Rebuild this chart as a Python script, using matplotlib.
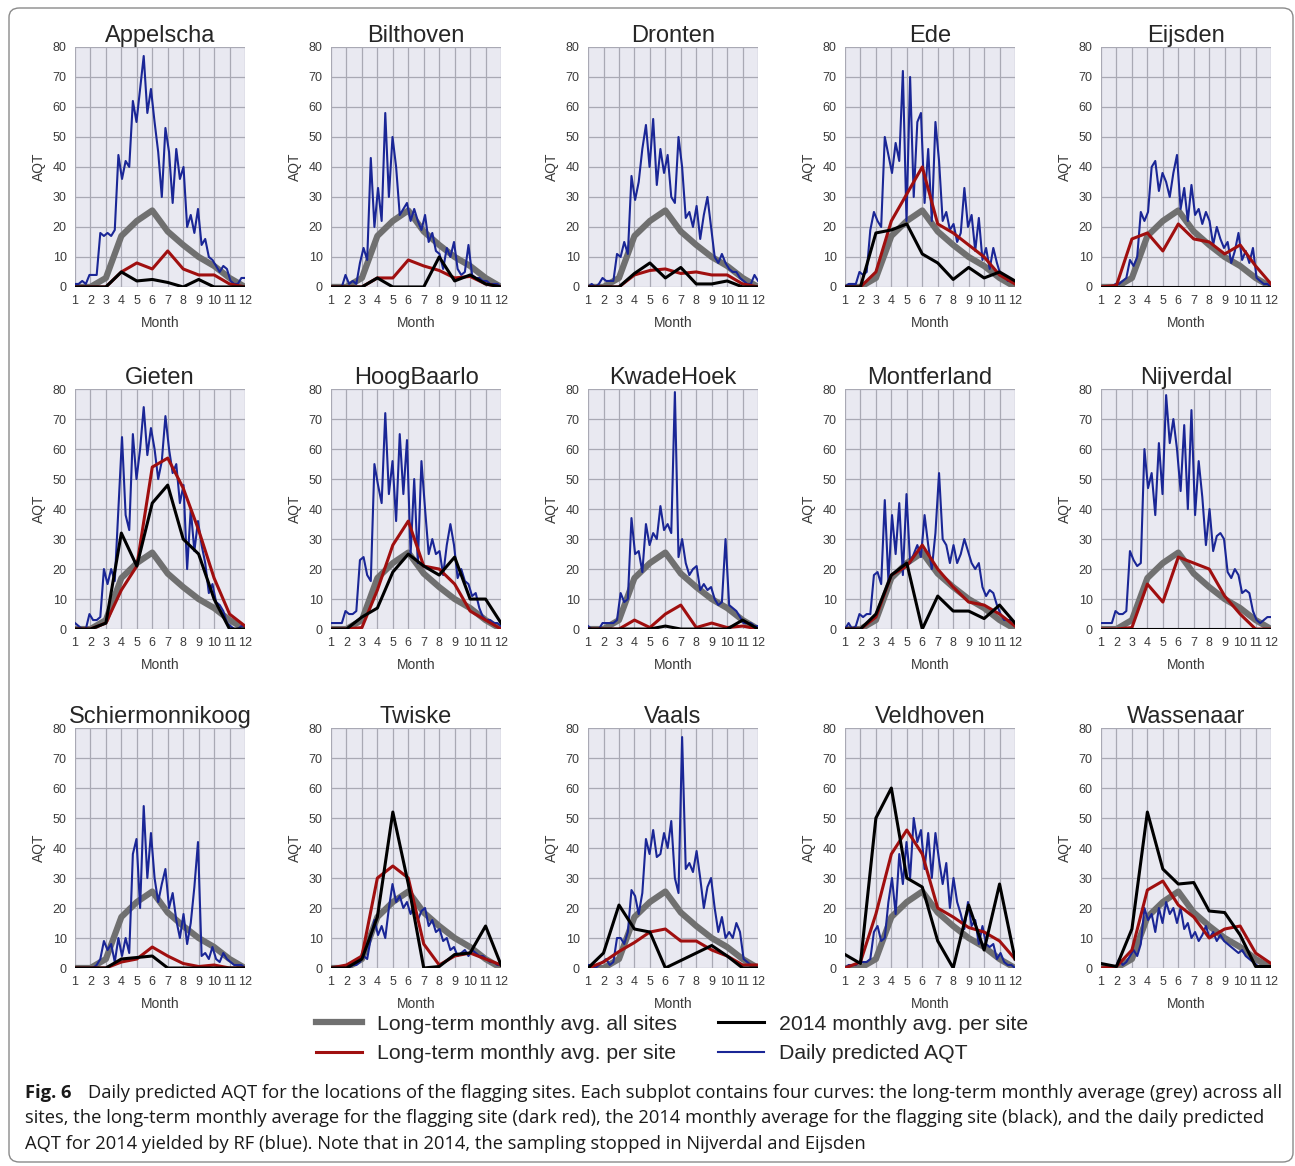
import numpy as np
import matplotlib

matplotlib.use("Agg")
import matplotlib.pyplot as plt
from matplotlib.lines import Line2D
from matplotlib.patches import FancyBboxPatch

plt.rcParams["font.family"] = ["Liberation Sans", "DejaVu Sans"]

MONTHS = list(range(1, 13))
MONTH_LABELS = [str(m) for m in MONTHS]
Y_TICKS = [0, 10, 20, 30, 40, 50, 60, 70, 80]

# long-term monthly average across all sites (same grey curve in every panel)
all_sites_avg = [0, 0, 3, 17, 22, 25.5, 18.5, 14, 10, 7, 3, 0]

# per site: long-term monthly avg, 2014 monthly avg, daily prediction (read ~weekly)
appelscha_site = [0, 0, 0, 5, 8, 6, 12, 6, 4, 4, 1, 0]
appelscha_2014 = [0, 0, 0, 5, 2, 2.5, 1.5, 0, 2.5, 0, 0, 0]
appelscha_daily = [1, 1, 2, 1, 4, 4, 4, 18, 17, 18, 17, 19, 44, 36, 42, 40, 62, 55, 66, 77,
                   58, 66, 55, 45, 30, 53, 45, 28, 46, 36, 40, 20, 24, 18, 26, 14, 16, 10,
                   9, 7, 5, 7, 6, 2, 1, 1, 3, 3]

bilthoven_site = [0, 0, 0, 3, 3, 9, 7, 5.5, 3, 3.5, 1, 0]
bilthoven_2014 = [0, 0, 0, 3, 0, 0, 0, 10, 2, 4, 1, 0]
bilthoven_daily = [0, 0, 0, 0, 4, 1, 2, 1, 8, 13, 9, 43, 20, 33, 22, 58, 30, 50, 40, 24,
                   26, 28, 22, 26, 22, 19, 24, 15, 18, 12, 11, 6, 13, 10, 15, 6, 4, 5,
                   14, 4, 3, 3, 2, 2, 1, 1, 1, 0]

dronten_site = [0, 0, 0, 4, 5.5, 6, 4.5, 5, 4, 4, 1, 0]
dronten_2014 = [0, 0, 0, 4.5, 8, 3, 6.5, 1, 1, 2, 0, 0]
dronten_daily = [0, 1, 0, 1, 3, 2, 2, 2, 11, 10, 15, 11, 37, 29, 35, 46, 54, 40, 56, 34,
                 46, 38, 44, 30, 28, 50, 40, 23, 25, 20, 27, 16, 24, 30, 20, 10, 8, 11,
                 8, 6, 5, 5, 3, 2, 1, 1, 4, 2]

ede_site = [0, 0, 5, 22, 31, 40, 21, 18, 14, 10, 4, 1]
ede_2014 = [0, 0, 18, 19, 21, 11, 8, 2.5, 6.5, 3, 5, 2]
ede_daily = [0, 1, 1, 1, 5, 4, 5, 19, 25, 22, 20, 50, 44, 38, 48, 42, 72, 22, 70, 30,
             55, 58, 28, 46, 22, 55, 42, 22, 25, 19, 21, 15, 18, 33, 20, 24, 12, 23,
             9, 13, 6, 13, 8, 4, 4, 2, 2, 1]

eijsden_site = [0, 0.5, 16, 18, 12, 21, 16, 15, 11, 14, 7, 1]
eijsden_2014 = [0, 0, 0, 0, 0, 0, 0, 0, 0, 0, 0, 0]
eijsden_daily = [0, 0, 0, 0, 1, 1, 2, 3, 9, 7, 10, 25, 22, 25, 40, 42, 32, 38, 35, 30,
                 38, 44, 26, 33, 22, 34, 24, 26, 21, 25, 22, 14, 20, 16, 13, 15, 8, 12,
                 18, 9, 12, 8, 13, 3, 2, 1, 1, 0]

gieten_site = [0, 0, 2, 13, 21, 54, 57, 47, 33, 17, 5, 1]
gieten_2014 = [0, 0, 2, 32, 21, 42, 48, 30, 25, 10, 0, 0]
gieten_daily = [2, 1, 0, 0, 5, 3, 3, 4, 20, 15, 20, 16, 40, 64, 38, 33, 65, 50, 60, 74,
                58, 67, 60, 50, 56, 71, 60, 52, 55, 42, 48, 20, 40, 26, 36, 28, 22, 12,
                15, 9, 8, 6, 2, 1, 0, 0, 1, 1]

hoogbaarlo_site = [0, 0, 0.5, 13, 28, 36, 21, 20, 15, 6, 3, 0]
hoogbaarlo_2014 = [0, 0, 4, 7, 19, 25, 21, 18, 24, 10, 10, 2]
hoogbaarlo_daily = [2, 2, 2, 2, 6, 5, 5, 6, 23, 24, 18, 16, 55, 48, 42, 72, 45, 56, 36, 65,
                    45, 63, 25, 50, 22, 56, 40, 25, 30, 25, 26, 18, 28, 35, 28, 17, 20, 16,
                    15, 11, 12, 7, 4, 3, 3, 2, 2, 1]

kwadehoek_site = [0, 0, 0, 3, 0.5, 5, 8, 0.5, 2, 0.5, 1, 0]
kwadehoek_2014 = [0, 0, 0, 0, 0, 1, 0, 0, 0, 0, 3, 0]
kwadehoek_daily = [1, 0, 0, 0, 2, 2, 2, 2, 3, 12, 9, 10, 37, 25, 26, 19, 35, 28, 32, 30,
                   41, 33, 35, 32, 79, 24, 30, 22, 18, 20, 21, 13, 15, 13, 14, 10, 8, 9,
                   30, 8, 7, 6, 4, 2, 2, 2, 1, 1]

montferland_site = [0, 0, 4, 18, 21, 28, 20, 14, 9, 8, 5, 1]
montferland_2014 = [0, 0, 5, 18, 22, 0, 11, 6, 6, 3.5, 8, 2]
montferland_daily = [0, 2, 0, 1, 5, 4, 5, 5, 18, 19, 15, 43, 16, 38, 25, 42, 18, 45, 22, 25,
                     28, 24, 38, 28, 20, 32, 52, 30, 28, 22, 28, 22, 25, 30, 26, 22, 20, 22,
                     14, 11, 13, 12, 8, 5, 3, 3, 3, 2]

nijverdal_site = [0, 0, 0.5, 15, 9, 24, 22, 20, 11, 5, 0, 0]
nijverdal_2014 = [0, 0, 0, 0, 0, 0, 0, 0, 0, 0, 0, 0]
nijverdal_daily = [2, 2, 2, 2, 6, 5, 5, 6, 26, 23, 21, 22, 60, 47, 52, 38, 62, 45, 78, 62,
                   70, 60, 46, 68, 40, 73, 38, 56, 44, 28, 40, 26, 31, 32, 30, 19, 17, 20,
                   18, 12, 13, 12, 6, 3, 2, 3, 4, 4]

schiermonnikoog_site = [0, 0, 0, 2, 3, 7, 4, 1.5, 0.5, 1, 0, 0]
schiermonnikoog_2014 = [0, 0, 0, 3, 3.5, 4, 0, 0, 0, 0, 0, 0]
schiermonnikoog_daily = [0, 0, 0, 0, 0, 0, 1, 3, 9, 6, 8, 2, 10, 4, 10, 5, 38, 43, 20, 54,
                         30, 45, 30, 22, 28, 33, 20, 25, 16, 10, 18, 8, 15, 27, 42, 4, 5, 3,
                         7, 3, 2, 5, 3, 2, 1, 1, 1, 0]

twiske_site = [0, 1, 4, 30, 34, 30, 8, 1, 4, 5, 3, 1]
twiske_2014 = [0, 0, 3, 17, 52, 28, 0, 0.5, 4.5, 5, 14, 1]
twiske_daily = [0, 0, 0, 0, 0, 0, 1, 1, 2, 4, 3, 10, 16, 11, 14, 10, 20, 28, 22, 24,
                20, 22, 18, 21, 16, 19, 20, 14, 16, 12, 13, 9, 10, 6, 7, 4, 5, 6,
                4, 6, 5, 4, 4, 3, 2, 2, 1, 1]

vaals_site = [0, 2, 5.5, 8.5, 12, 13, 9, 9, 6, 4, 1, 1]
vaals_2014 = [0, 5, 21, 13, 12, 0, 2.5, 5, 7.5, 4, 0, 0]
vaals_daily = [1, 1, 0, 1, 2, 3, 1, 2, 10, 10, 8, 12, 26, 24, 18, 25, 43, 38, 46, 37,
               38, 45, 40, 49, 30, 25, 77, 33, 35, 32, 39, 30, 20, 27, 30, 20, 12, 17,
               10, 12, 10, 15, 12, 3, 2, 1, 1, 1]

veldhoven_site = [0, 2, 18, 38, 46, 38, 20, 17, 13.5, 12, 9, 3]
veldhoven_2014 = [4.5, 1.5, 50, 60, 30, 27, 9, 0, 21, 6, 28, 3]
veldhoven_daily = [0, 1, 1, 1, 2, 2, 2, 3, 12, 14, 9, 10, 22, 30, 18, 38, 28, 42, 30, 50,
                   42, 46, 33, 45, 30, 45, 36, 28, 35, 20, 30, 22, 18, 13, 22, 14, 16, 8,
                   14, 8, 7, 8, 3, 5, 2, 1, 1, 0]

wassenaar_site = [0, 0.5, 6, 26, 29, 21, 17, 10, 13, 14, 5, 1.5]
wassenaar_2014 = [1.5, 0.5, 13, 52, 33, 28, 28.5, 19, 18.5, 11, 0.5, 0.5]
wassenaar_daily = [0, 0, 0, 0, 0, 3, 1, 2, 4, 6, 4, 8, 20, 16, 18, 12, 20, 15, 22, 18,
                   20, 15, 20, 13, 15, 10, 12, 9, 11, 14, 10, 12, 9, 11, 9, 8, 7, 6,
                   5, 6, 4, 3, 2, 1, 0, 0, 0, 0]

sites = [
    ("Appelscha", appelscha_site, appelscha_2014, appelscha_daily),
    ("Bilthoven", bilthoven_site, bilthoven_2014, bilthoven_daily),
    ("Dronten", dronten_site, dronten_2014, dronten_daily),
    ("Ede", ede_site, ede_2014, ede_daily),
    ("Eijsden", eijsden_site, eijsden_2014, eijsden_daily),
    ("Gieten", gieten_site, gieten_2014, gieten_daily),
    ("HoogBaarlo", hoogbaarlo_site, hoogbaarlo_2014, hoogbaarlo_daily),
    ("KwadeHoek", kwadehoek_site, kwadehoek_2014, kwadehoek_daily),
    ("Montferland", montferland_site, montferland_2014, montferland_daily),
    ("Nijverdal", nijverdal_site, nijverdal_2014, nijverdal_daily),
    ("Schiermonnikoog", schiermonnikoog_site, schiermonnikoog_2014, schiermonnikoog_daily),
    ("Twiske", twiske_site, twiske_2014, twiske_daily),
    ("Vaals", vaals_site, vaals_2014, vaals_daily),
    ("Veldhoven", veldhoven_site, veldhoven_2014, veldhoven_daily),
    ("Wassenaar", wassenaar_site, wassenaar_2014, wassenaar_daily),
]

GREY = "#707070"
RED = "#a00f0f"
BLACK = "#000000"
BLUE = "#1a2696"

fig = plt.figure(figsize=(12.95, 11.66), dpi=100)

# axes grid placement (figure fractions)
lefts = [0.0579, 0.2556, 0.4541, 0.6525, 0.8502]
bottoms = [0.7539, 0.4605, 0.1698]
width, height = 0.1313, 0.2058

for k, (name, site, y2014, daily) in enumerate(sites):
    ax = fig.add_axes([lefts[k % 5], bottoms[k // 5], width, height])
    ax.set_facecolor("#e9e9f1")
    for s in ax.spines.values():
        s.set_visible(False)
    ax.grid(True, color="#a9a9b4", linewidth=0.9)
    ax.set_axisbelow(True)

    days = np.linspace(1, 12, len(daily))
    ax.plot(MONTHS, all_sites_avg, color=GREY, lw=4.5, solid_capstyle="butt")
    ax.plot(days, daily, color=BLUE, lw=1.5)
    ax.plot(MONTHS, site, color=RED, lw=2.2)
    ax.plot(MONTHS, y2014, color=BLACK, lw=2.2)

    ax.set_xlim(1, 12)
    ax.set_ylim(0, 80)
    ax.set_xticks(MONTHS)
    ax.set_xticklabels(MONTH_LABELS)
    ax.set_yticks(Y_TICKS)
    ax.tick_params(length=0, labelsize=9, colors="#3a3a3a", pad=6)
    ax.set_xlabel("Month", fontsize=10, color="#3a3a3a", labelpad=6)
    ax.set_ylabel("AQT", fontsize=10, color="#3a3a3a", labelpad=5)
    ax.set_title(name, fontsize=17, color="#262626", pad=3)

handles = [
    Line2D([], [], color=GREY, lw=4.5),
    Line2D([], [], color=RED, lw=2.2),
    Line2D([], [], color=BLACK, lw=2.2),
    Line2D([], [], color=BLUE, lw=1.5),
]
labels = [
    "Long-term monthly avg. all sites",
    "Long-term monthly avg. per site",
    "2014 monthly avg. per site",
    "Daily predicted AQT",
]
fig.legend(handles, labels, loc="center", bbox_to_anchor=(0.519, 0.109), ncol=2,
           frameon=False, fontsize=15.3, handlelength=2.2, handletextpad=0.7,
           columnspacing=1.9, labelspacing=0.5, labelcolor="#262626")

# caption
cap_font = ["Open Sans", "DejaVu Sans"]
fig.text(25 / 1295, 1 - 1093 / 1166, "Fig. 6", fontsize=13.2, fontweight="bold",
         family=cap_font, va="center", color="#1a1a1a")
fig.text(88 / 1295, 1 - 1093 / 1166,
         "Daily predicted AQT for the locations of the flagging sites. Each subplot "
         "contains four curves: the long-term monthly average (grey) across all",
         fontsize=13.2, family=cap_font, va="center", color="#1a1a1a")
fig.text(25 / 1295, 1 - 1118 / 1166,
         "sites, the long-term monthly average for the flagging site (dark red), the 2014 "
         "monthly average for the flagging site (black), and the daily predicted",
         fontsize=13.2, family=cap_font, va="center", color="#1a1a1a")
fig.text(25 / 1295, 1 - 1144 / 1166,
         "AQT for 2014 yielded by RF (blue). Note that in 2014, the sampling stopped in "
         "Nijverdal and Eijsden",
         fontsize=13.2, family=cap_font, va="center", color="#1a1a1a")

# rounded frame around the whole figure
frame = FancyBboxPatch((9 / 1295, 4 / 1166), 1284 / 1295, 1154 / 1166,
                       boxstyle="round,pad=0,rounding_size=0.008",
                       transform=fig.transFigure, facecolor="none",
                       edgecolor="#8a8a8a", linewidth=1.0)
fig.patches.append(frame)

fig.savefig("out.png", dpi=100)
